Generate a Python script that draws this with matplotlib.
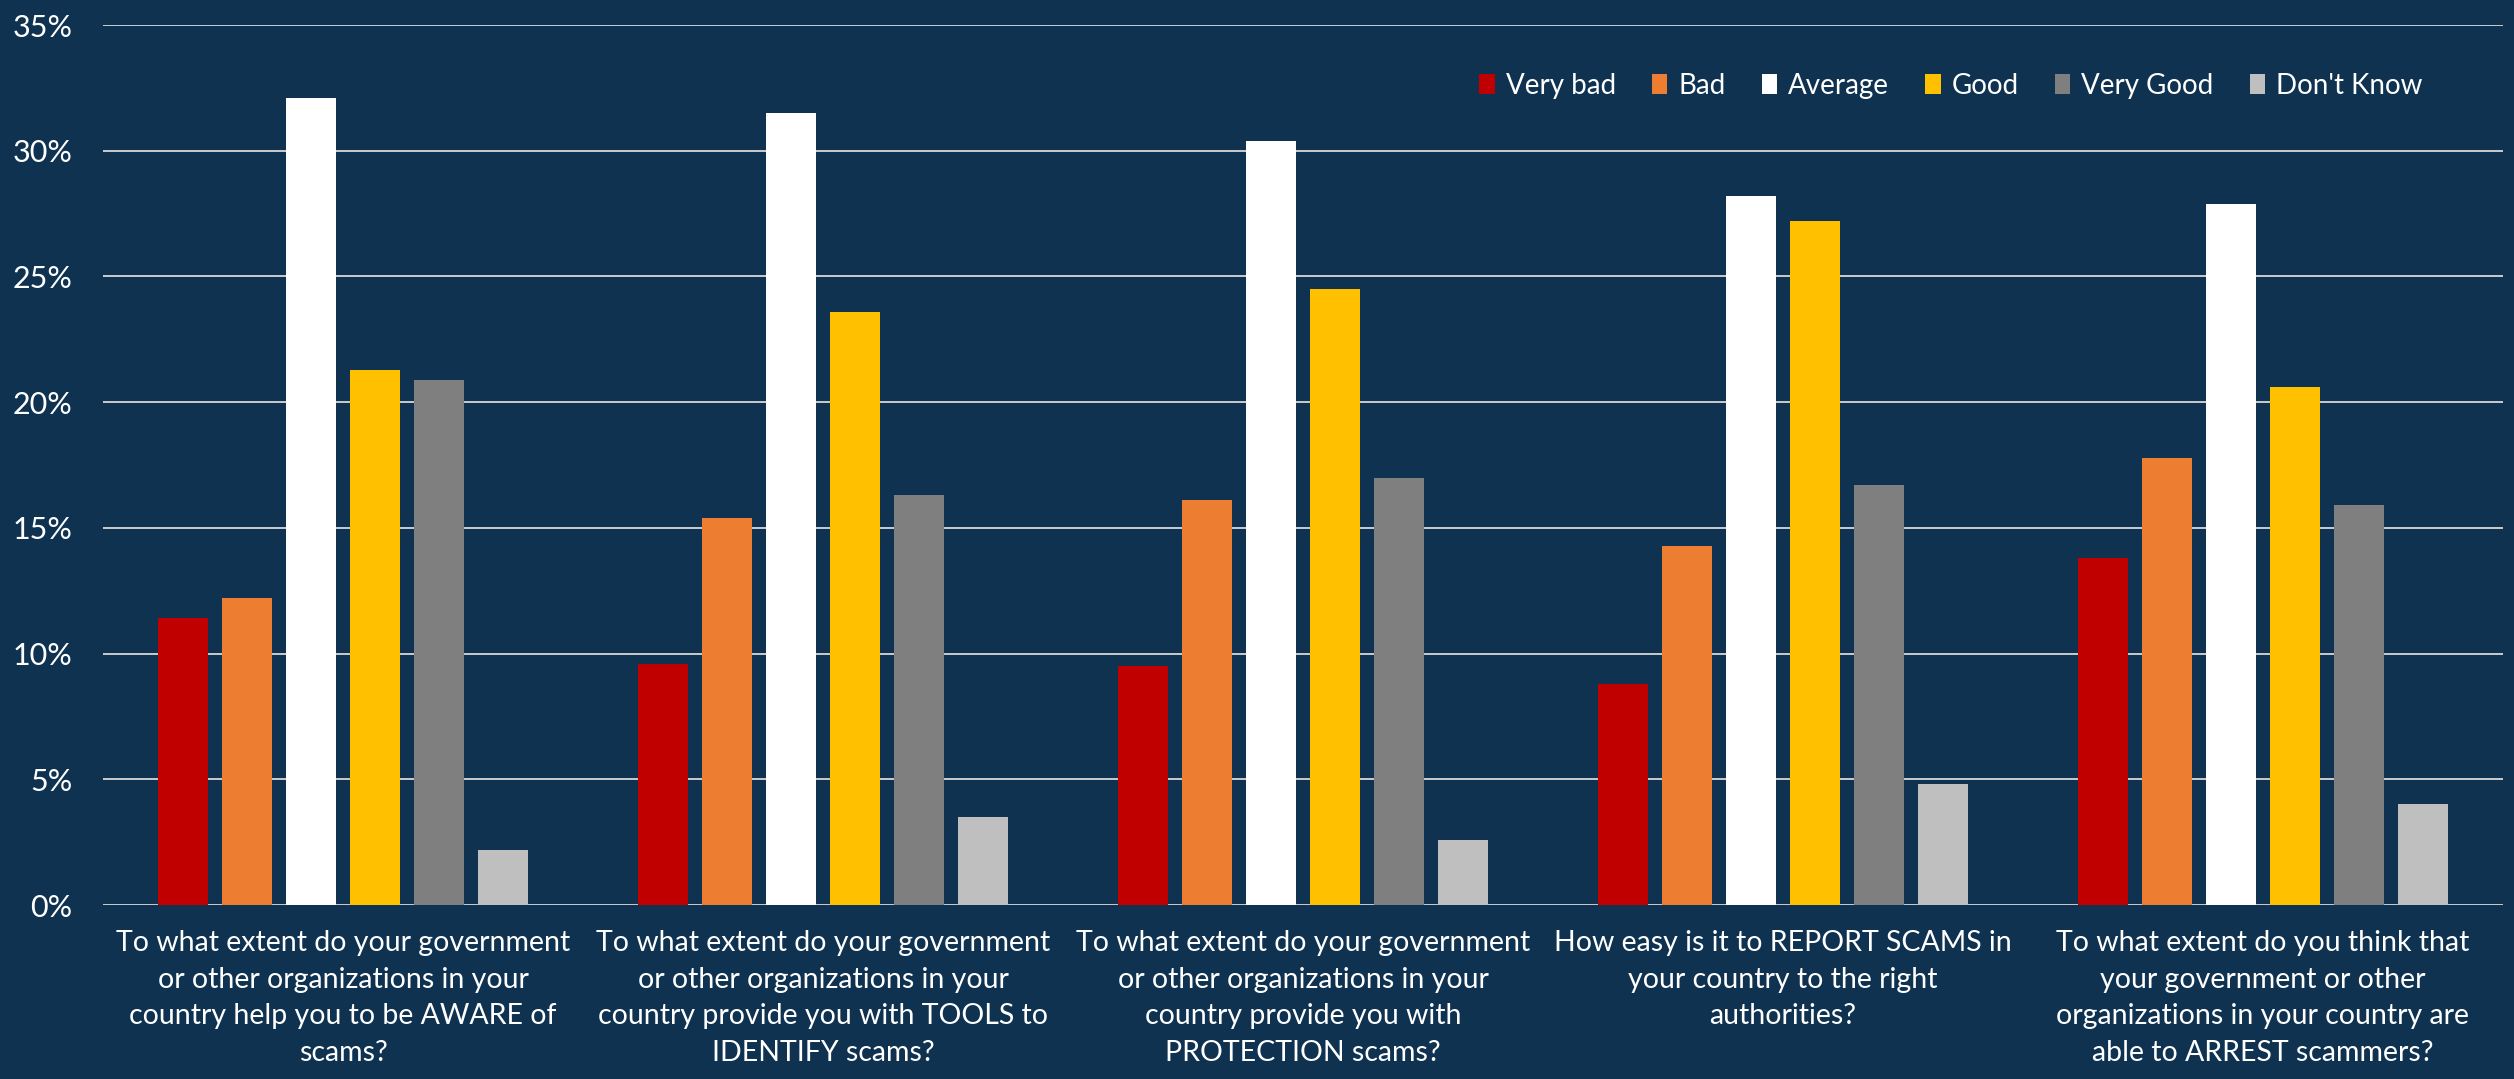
import matplotlib.pyplot as plt
import numpy as np
from matplotlib.ticker import PercentFormatter

plt.rcParams['font.family'] = ['Lato', 'DejaVu Sans']

# question labels (wrapped as in the original)
questions = [
    'To what extent do your government\nor other organizations in your\ncountry help you to be AWARE of\nscams?',
    'To what extent do your government\nor other organizations in your\ncountry provide you with TOOLS to\nIDENTIFY scams?',
    'To what extent do your government\nor other organizations in your\ncountry provide you with\nPROTECTION scams?',
    'How easy is it to REPORT SCAMS in\nyour country to the right\nauthorities?',
    'To what extent do you think that\nyour government or other\norganizations in your country are\nable to ARREST scammers?',
]

answers = ['Very bad', 'Bad', 'Average', 'Good', 'Very Good', "Don't Know"]
colors = ['#C00000', '#ED7D31', '#FFFFFF', '#FFC000', '#7F7F7F', '#BFBFBF']

# share of respondents per answer (%), one list per answer, questions in order
very_bad = [11.4, 9.6, 9.5, 8.8, 13.8]
bad = [12.2, 15.4, 16.1, 14.3, 17.8]
average = [32.1, 31.5, 30.4, 28.2, 27.9]
good = [21.3, 23.6, 24.5, 27.2, 20.6]
very_good = [20.9, 16.3, 17.0, 16.7, 15.9]
dont_know = [2.2, 3.5, 2.6, 4.8, 4.0]

series = [very_bad, bad, average, good, very_good, dont_know]

bg = '#0E3250'
fig = plt.figure(figsize=(25.14, 10.79), dpi=100, facecolor=bg)
ax = fig.add_axes([0.041, 0.1612, 0.9546, 0.8156], facecolor=bg)

x = np.arange(len(questions))
pitch = 64 / 480
width = 50 / 480
for i, (vals, name, col) in enumerate(zip(series, answers, colors)):
    offs = (i - 2.5) * pitch
    ax.bar(x + offs, vals, width=width, color=col, label=name, zorder=3)

ax.set_xlim(-0.5, len(questions) - 0.5)
ax.set_ylim(0, 35)
ax.set_yticks(np.arange(0, 36, 5))
ax.yaxis.set_major_formatter(PercentFormatter(decimals=0))
ax.grid(axis='y', color='#D9D9D9', lw=1.3, zorder=0)
ax.set_axisbelow(True)
for s in ax.spines.values():
    s.set_visible(False)

ax.set_xticks(x)
ax.set_xticklabels(questions, fontsize=20.5, color='white', linespacing=1.5,
                   multialignment='center')
ax.tick_params(axis='x', length=0, pad=18)
ax.tick_params(axis='y', length=0, pad=22, labelsize=22, labelcolor='white')

leg = ax.legend(ncol=6, loc='center', bbox_to_anchor=(0.77, 0.931), frameon=False,
                fontsize=20, labelcolor='white', handlelength=0.55, handleheight=0.75,
                handletextpad=0.4, columnspacing=1.3)

fig.savefig('out.png', dpi=100, facecolor=bg)
